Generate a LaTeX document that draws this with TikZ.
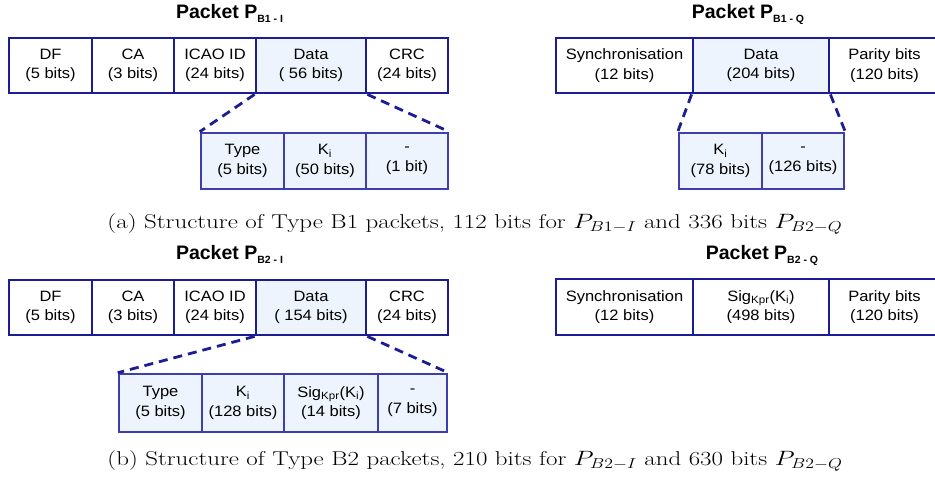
\documentclass[tikz,border=0pt]{standalone}
\usepackage{fontspec}
\usepackage{graphicx}
\newfontfamily\boxfont[FakeStretch=1.1]{Liberation Sans}
\newfontfamily\ttlfont{Liberation Sans}
\definecolor{navy}{HTML}{1C1C94}
\definecolor{subnavy}{HTML}{3E3EAE}
\definecolor{datafill}{HTML}{EEF4FD}
\tikzset{
  x=1pt, y=-1pt,
  cellbox/.style={draw=navy, line width=2.8pt, fill=white, inner sep=0pt, align=center,
    font=\boxfont\fontsize{15}{19.5}\selectfont},
  datacell/.style={cellbox, fill=datafill},
  subcell/.style={cellbox, draw=subnavy, fill=datafill, line width=2.5pt},
  ttl/.style={anchor=base, inner sep=0pt, font=\ttlfont\bfseries\fontsize{19.5}{22}\selectfont},
  zoomline/.style={draw=navy, line width=2.8pt, dash pattern=on 9pt off 6pt},
  capt/.style={anchor=base, inner sep=0pt}
}
\newcommand{\mkcell}[7]{\node[#6, minimum width={(#3-#2)*1pt}, minimum height={(#5-#4)*1pt}] (#1) at ({(#2+#3)/2},{(#4+#5)/2}) {#7};}
\newcommand{\sbs}[1]{\raisebox{-4pt}{\fontsize{10.5}{12}\selectfont #1}}
\begin{document}
\begin{tikzpicture}
\useasboundingbox (0,0) rectangle (935,480);
% ---------- (a) left: P_B1-I
\node[ttl] (t1) at (229.5,18) {Packet P\sbs{B1 - I}};
\mkcell{a1}{9}{92}{38}{93}{cellbox}{DF\\(5 bits)}
\mkcell{a2}{92}{174}{38}{93}{cellbox}{CA\\(3 bits)}
\mkcell{a3}{174}{256}{38}{93}{cellbox}{ICAO ID\\(24 bits)}
\mkcell{a4}{256}{366}{38}{93}{datacell}{Data\\( 56 bits)}
\mkcell{a5}{366}{448}{38}{93}{cellbox}{CRC\\(24 bits)}
\mkcell{as1}{201}{284}{133}{189}{subcell}{Type\\(5 bits)}
\mkcell{as2}{284}{366}{133}{189}{subcell}{K\textsubscript{i}\\(50 bits)}
\mkcell{as3}{366}{448}{133}{189}{subcell}{-\\(1 bit)}
\draw[zoomline] (a4.south west) -- (as1.north west);
\draw[zoomline] (a4.south east) -- (as3.north east);
% ---------- (a) right: P_B1-Q
\node[ttl] (t2) at (748,18) {Packet P\sbs{B1 - Q}};
\mkcell{b1}{556}{693}{38}{93}{cellbox}{Synchronisation\\(12 bits)}
\mkcell{b2}{693}{829}{38}{93}{datacell}{Data\\(204 bits)}
\mkcell{b3}{829}{940}{38}{93}{cellbox}{Parity bits\\(120 bits)}
\mkcell{bs1}{679}{762}{133}{189}{subcell}{K\textsubscript{i}\\(78 bits)}
\mkcell{bs2}{762}{844}{133}{189}{subcell}{-\\(126 bits)}
\draw[zoomline] (b2.south west) -- (bs1.north west);
\draw[zoomline] (b2.south east) -- (bs2.north east);
% caption (a)
\node[capt] (capa) at (475,228) {\fontsize{20}{24}\selectfont\resizebox{735pt}{\height}{(a) Structure of Type B1 packets, 112 bits for $P_{B1-I}$ and 336 bits $P_{B2-Q}$}};
% ---------- (b) left: P_B2-I
\node[ttl] (t3) at (229.5,259) {Packet P\sbs{B2 - I}};
\mkcell{c1}{9}{92}{280}{335}{cellbox}{DF\\(5 bits)}
\mkcell{c2}{92}{174}{280}{335}{cellbox}{CA\\(3 bits)}
\mkcell{c3}{174}{256}{280}{335}{cellbox}{ICAO ID\\(24 bits)}
\mkcell{c4}{256}{366}{280}{335}{datacell}{Data\\( 154 bits)}
\mkcell{c5}{366}{448}{280}{335}{cellbox}{CRC\\(24 bits)}
\mkcell{cs1}{119}{202}{374}{432}{subcell}{Type\\(5 bits)}
\mkcell{cs2}{202}{284}{374}{432}{subcell}{K\textsubscript{i}\\(128 bits)}
\mkcell{cs3}{284}{378}{374}{432}{subcell}{Sig\textsubscript{Kpr}(K\textsubscript{i})\\(14 bits)}
\mkcell{cs4}{378}{447}{374}{432}{subcell}{-\\(7 bits)}
\draw[zoomline] (c4.south west) -- (cs1.north west);
\draw[zoomline] (c4.south east) -- (cs4.north east);
% ---------- (b) right: P_B2-Q
\node[ttl] (t4) at (762,259) {Packet P\sbs{B2 - Q}};
\mkcell{d1}{556}{693}{279}{335}{cellbox}{Synchronisation\\(12 bits)}
\mkcell{d2}{693}{829}{279}{335}{cellbox}{Sig\textsubscript{Kpr}(K\textsubscript{i})\\(498 bits)}
\mkcell{d3}{829}{940}{279}{335}{cellbox}{Parity bits\\(120 bits)}
% caption (b)
\node[capt] (capb) at (475,465) {\fontsize{20}{24}\selectfont\resizebox{735pt}{\height}{(b) Structure of Type B2 packets, 210 bits for $P_{B2-I}$ and 630 bits $P_{B2-Q}$}};
\end{tikzpicture}
\end{document}
